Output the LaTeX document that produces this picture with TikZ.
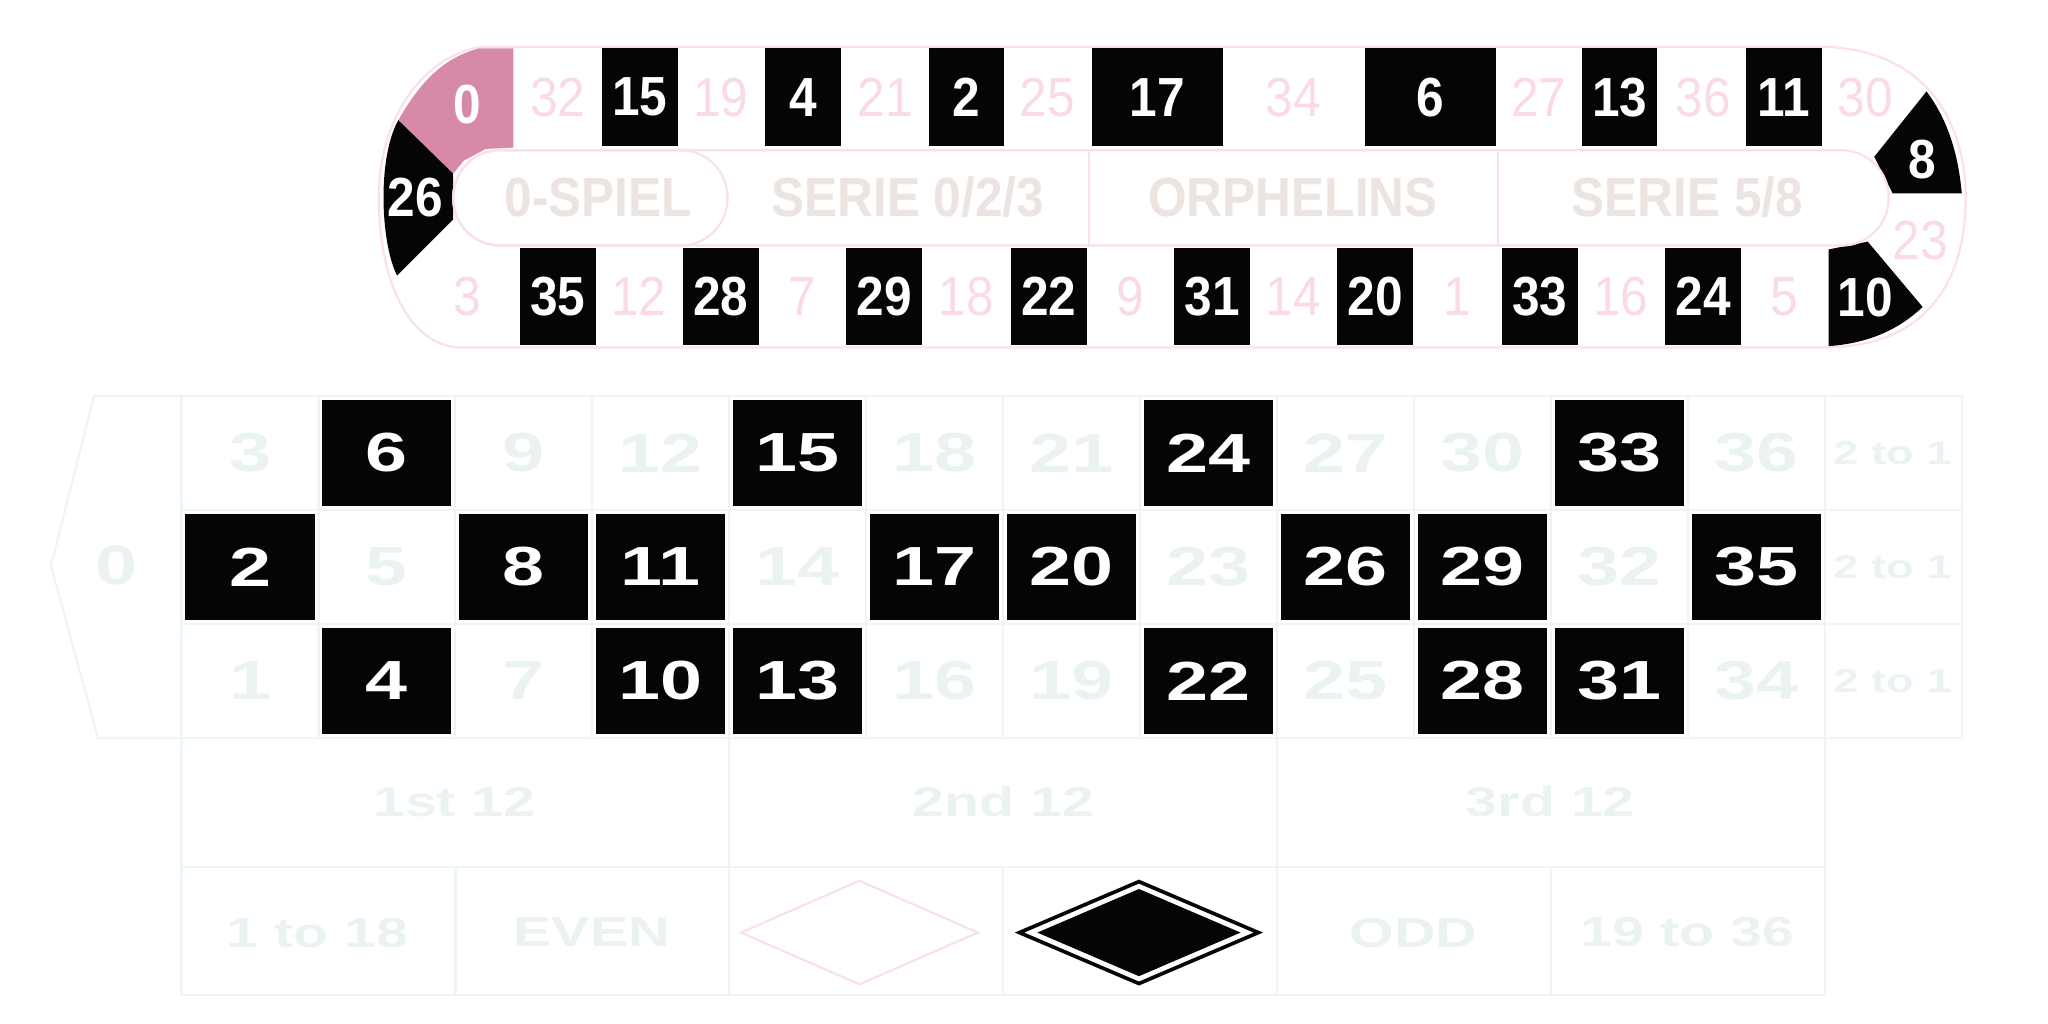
\documentclass[tikz,border=0pt]{standalone}
\usepackage{fontspec}
\setmainfont{Liberation Sans}
\newfontfamily\tabfont[FakeStretch=1.37]{Liberation Sans}
\newfontfamily\trackfont[FakeStretch=0.9]{Liberation Sans}
\usetikzlibrary{shapes.geometric}
\definecolor{rblack}{RGB}{5,5,5}
\definecolor{rzero}{RGB}{214,138,168}
\definecolor{rtrack}{RGB}{250,218,228}
\definecolor{rline}{RGB}{250,224,232}
\definecolor{rband}{RGB}{236,228,224}
\definecolor{rfaint}{RGB}{235,242,242}
\definecolor{rgrid}{RGB}{238,245,245}

\begin{document}
\begin{tikzpicture}[x=0.0125cm, y=-0.0125cm,
  trk/.style={draw=rline, line width=0.6pt},
  grd/.style={draw=rgrid, line width=0.6pt},
  tbox/.style={rectangle, fill=rblack, minimum width=#1, minimum height=0.9375cm,
               inner sep=0pt, text=white, font=\trackfont\fontsize{15}{15}\selectfont\bfseries},
  tbox/.default=0.725cm,
  tlbl/.style={inner sep=0pt, text=white, font=\trackfont\fontsize{15}{15}\selectfont\bfseries},
  tnum/.style={inner sep=0pt, text=rtrack, font=\trackfont\fontsize{15}{15}\selectfont},
  band/.style={inner sep=0pt, text=rband, font=\trackfont\fontsize{15}{15}\selectfont\bfseries},
  cell/.style={rectangle, fill=rblack, minimum width=1.235cm, minimum height=1.01cm,
               inner sep=0pt, text=white, font=\tabfont\fontsize{15}{15}\selectfont\bfseries},
  fnum/.style={inner sep=0pt, text=rfaint, font=\tabfont\fontsize{15}{15}\selectfont\bfseries},
  lbl/.style={inner sep=0pt, text=rfaint, font=\tabfont\fontsize{#1}{#1}\selectfont\bfseries},
  lbl/.default=11.4
]
\useasboundingbox (0,0) rectangle (1568,784);

% Racetrack
\draw[trk] (367,36) -- (1400,36) .. controls (1480,40) and (1505,100) .. (1505,151)
  .. controls (1505,210) and (1480,264) .. (1400,266) -- (350,266)
  .. controls (310,262) and (290,210) .. (290,151) .. controls (290,95) and (320,45) .. (367,36);
\fill[rzero] (393,37) -- (393,113) -- (372,114) -- (355,123) -- (347,133) -- (305,92)
  .. controls (322,62) and (340,44) .. (367,37) -- cycle;
\fill[rblack] (305,92) -- (347,133) -- (347,168) -- (304,211) .. controls (291,185) and (289,120) .. cycle;
\fill[rblack] (1475,70) -- (1435,120) -- (1449,148) -- (1502,148) .. controls (1499,115) and (1490,90) .. cycle;
\fill[rblack] (1400,191) -- (1430,185) -- (1472,235) .. controls (1452,254) and (1428,263) .. (1400,265) -- cycle;
\node[tlbl] (t0)  at (358,80)  {0};
\node[tlbl] (t26) at (318,151) {26};
\node[tlbl] (t8)  at (1472,122) {8};
\node[tnum] (t23) at (1470,184) {23};
\node[tlbl] (t10) at (1428,228) {10};

% Middle band
\draw[trk, fill=white, rounded corners=0.45cm] (347,115) rectangle (1446,188);
\draw[trk, rounded corners=0.45cm] (347,115) rectangle (557,188);
\draw[trk] (834,115) -- (834,188) (1147,115) -- (1147,188);
\node[band] (spiel)    at (458,151)  {0-SPIEL};
\node[band] (serie023) at (695,151)  {SERIE 0/2/3};
\node[band] (orph)     at (990,151)  {ORPHELINS};
\node[band] (serie58)  at (1292,151) {SERIE 5/8};

% Top row
\node[tnum] (t32) at (427,74.5)  {32};
\node[tbox] (t15) at (490,74.5)  {15};
\node[tnum] (t19) at (552,74.5)  {19};
\node[tbox] (t4)  at (615,74.5)  {4};
\node[tnum] (t21) at (678,74.5)  {21};
\node[tbox] (t2)  at (740,74.5)  {2};
\node[tnum] (t25) at (802,74.5)  {25};
\node[tbox=1.25cm] (t17) at (886,74.5) {17};
\node[tnum] (t34) at (990,74.5)  {34};
\node[tbox=1.25cm] (t6) at (1095,74.5) {6};
\node[tnum] (t27) at (1178,74.5) {27};
\node[tbox] (t13) at (1240,74.5) {13};
\node[tnum] (t36) at (1304,74.5) {36};
\node[tbox] (t11) at (1366,74.5) {11};
\node[tnum] (t30) at (1428,74.5) {30};

% Bottom row
\node[tnum] (t3)  at (358,227)  {3};
\node[tbox] (t35) at (427,227)  {35};
\node[tnum] (t12) at (489,227)  {12};
\node[tbox] (t28) at (552,227)  {28};
\node[tnum] (t7)  at (614,227)  {7};
\node[tbox] (t29) at (677,227)  {29};
\node[tnum] (t18) at (740,227)  {18};
\node[tbox] (t22) at (803,227)  {22};
\node[tnum] (t9)  at (865,227)  {9};
\node[tbox] (t31) at (928,227)  {31};
\node[tnum] (t14) at (990,227)  {14};
\node[tbox] (t20) at (1053,227) {20};
\node[tnum] (t1)  at (1116,227) {1};
\node[tbox] (t33) at (1179,227) {33};
\node[tnum] (t16) at (1241,227) {16};
\node[tbox] (t24) at (1304,227) {24};
\node[tnum] (t5)  at (1366,227) {5};

% Table grid
\draw[grd] (139,303) -- (72,303) -- (39,433) -- (75,565) -- (139,565);
\draw[grd] (139,303) rectangle (1502,565);
\draw[grd] (139,390.3) -- (1502,390.3) (139,477.7) -- (1502,477.7);
\foreach \c in {1,...,12}
  \draw[grd] ({139+\c*104.83},303) -- ({139+\c*104.83},565);
\draw[grd] (139,565) rectangle (1397,762);
\draw[grd] (139,663.5) -- (1397,663.5);
\draw[grd] (558.3,565) -- (558.3,663.5) (977.7,565) -- (977.7,663.5);
\foreach \k in {1,...,5}
  \draw[grd] ({139+\k*209.67},663.5) -- ({139+\k*209.67},762);

% Numbers
\node[fnum] (z0) at (89,433) {0};
\foreach \n in {2,4,6,8,10,11,13,15,17,20,22,24,26,28,29,31,33,35} {
  \pgfmathsetmacro\cx{139+(int((\n+2)/3)-0.5)*104.83}
  \pgfmathsetmacro\cy{303+(2.5-mod(\n-1,3))*87.33}
  \node[cell] (n\n) at (\cx,\cy) {\n};
}
\foreach \n in {1,3,5,7,9,12,14,16,18,19,21,23,25,27,30,32,34,36} {
  \pgfmathsetmacro\cx{139+(int((\n+2)/3)-0.5)*104.83}
  \pgfmathsetmacro\cy{303+(2.5-mod(\n-1,3))*87.33}
  \node[fnum] (n\n) at (\cx,\cy) {\n};
}
\foreach \r in {1,2,3}
  \node[lbl=9] (col\r) at (1449,{303+(\r-0.5)*87.33}) {2 to 1};

% Outside bets
\node[lbl] (doz1) at (348,614)  {1st 12};
\node[lbl] (doz2) at (768,614)  {2nd 12};
\node[lbl] (doz3) at (1187,614) {3rd 12};
\node[lbl] (low)  at (243,714)  {1 to 18};
\node[lbl] (even) at (453,714)  {EVEN};
\node[diamond, draw=rline, line width=0.6pt, minimum width=2.275cm, minimum height=1cm,
      inner sep=0pt] (redd) at (658,714) {};
\node[diamond, draw=rblack, line width=1pt, minimum width=2.3cm, minimum height=0.99cm,
      inner sep=0pt] (blkd) at (872,714) {};
\node[diamond, fill=rblack, minimum width=1.95cm, minimum height=0.84cm,
      inner sep=0pt] (blkin) at (872,714) {};
\node[lbl] (odd)  at (1082,714) {ODD};
\node[lbl] (high) at (1292,714) {19 to 36};
\end{tikzpicture}
\end{document}
